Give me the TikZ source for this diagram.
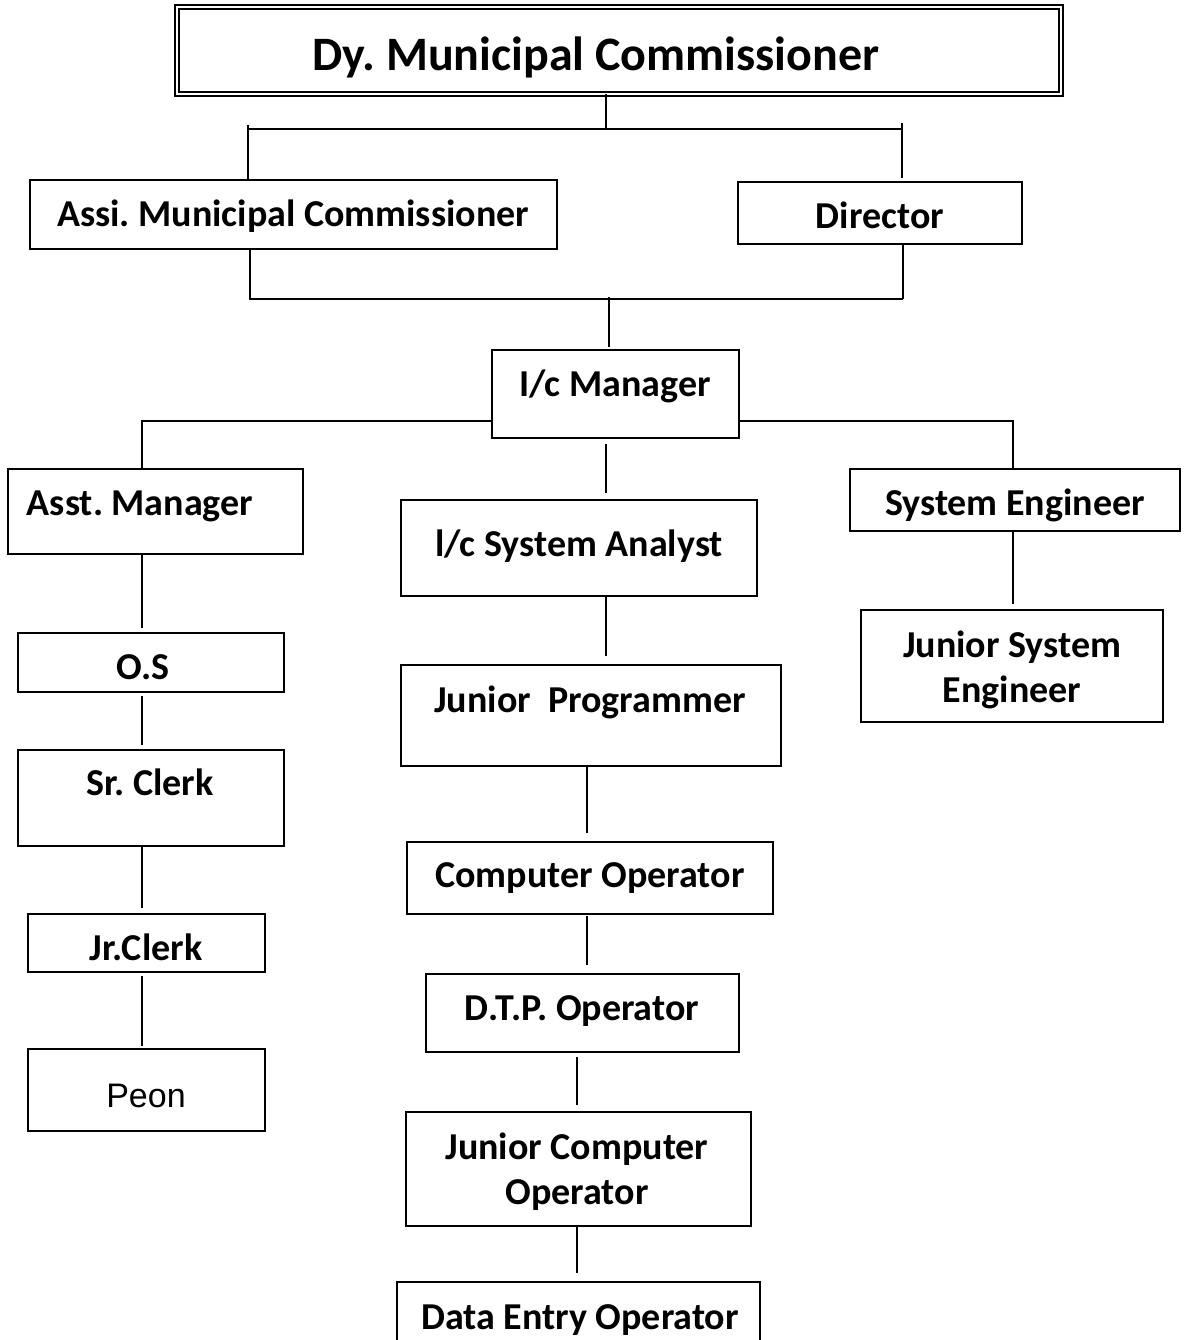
\documentclass[tikz,border=0pt]{standalone}
\usepackage{fontspec}
\setmainfont{Carlito}
\newfontfamily\arialf{Liberation Sans}
\frenchspacing
\begin{document}
\begin{tikzpicture}[x=1pt,y=-1pt,
  boxst/.style={draw, line width=2pt, inner sep=0pt, outer sep=0pt, rectangle},
  titlest/.style={draw, double, line width=2pt, double distance=2pt, inner sep=0pt, outer sep=0pt, rectangle},
  lbl/.style={inner sep=0pt, font=\bfseries\fontsize{38}{45}\selectfont, align=center},
  ttl/.style={inner sep=0pt, font=\bfseries\fontsize{48}{58}\selectfont},
  peonst/.style={inner sep=0pt, font=\arialf\fontsize{34}{40}\selectfont},
  conn/.style={line width=1.7pt}]
\newcommand\obox[6][boxst]{\node[#1, minimum width={(#5)-(#3)}, minimum height={(#6)-(#4)}] (#2) at ({((#3)+(#5))/2},{((#4)+(#6))/2}) {};}
\useasboundingbox (0,0) rectangle (1185,1340);
\clip (0,0) rectangle (1185,1340);
\fill[white] (0,0) rectangle (1185,1340);

% boxes
\obox[titlest]{title}{176.5}{7.5}{1060.5}{94.5}
\obox{ami}{30}{180}{557}{249}
\obox{dir}{738}{182}{1022}{244}
\obox{icm}{492}{350}{739}{438}
\obox{asm}{8}{469}{303}{554}
\obox{isa}{401}{500}{757}{596}
\obox{se}{850}{469}{1180}{531}
\obox{jse}{861}{610}{1163}{722}
\obox{os}{18}{633}{284}{692}
\obox{jp}{401}{665}{781}{766}
\obox{sc}{18}{750}{284}{846}
\obox{co}{407}{842}{773}{914}
\obox{jc}{28}{914}{265}{972}
\obox{dtp}{426}{974}{739}{1052}
\obox{peon}{28}{1049}{265}{1131}
\obox{jco}{406}{1112}{751}{1226}
\obox{deo}{397}{1282}{760}{1400}

% labels
\node[ttl, anchor=base] (title-t) at (596,71) {Dy. Municipal Commissioner};
\node[lbl, anchor=base] (ami-t) at (293,227) {Assi. Municipal Commissioner};
\node[lbl, anchor=base] (dir-t) at (880,229) {Director};
\node[lbl, anchor=base] (icm-t) at (615,396) {I/c Manager};
\node[lbl, anchor=base] (asm-t) at (140,515) {Asst. Manager};
\node[lbl, anchor=base] (isa-t) at (579,556) {l/c System Analyst};
\node[lbl, anchor=base] (se-t) at (1015,515) {System Engineer};
\node[lbl] (jse-t) at (1012,670) {Junior System\\Engineer};
\node[lbl, anchor=base] (os-t) at (143,679) {O.S};
\node[lbl, anchor=base] (jp-t) at (590,712) {Junior~~Programmer};
\node[lbl, anchor=base] (sc-t) at (150,795) {Sr. Clerk};
\node[lbl, anchor=base] (co-t) at (590,887) {Computer Operator};
\node[lbl, anchor=base] (jc-t) at (146,960) {Jr.Clerk};
\node[lbl, anchor=base] (dtp-t) at (582,1020) {D.T.P. Operator};
\node[peonst, anchor=base] (peon-t) at (146,1107) {Peon};
\node[lbl] (jco-t) at (577,1172) {Junior Computer\\Operator};
\node[lbl, anchor=base] (deo-t) at (580,1329) {Data Entry Operator};

% junction coordinates
\coordinate (jT) at (606,129);
\coordinate (jTL) at (248,129);
\coordinate (jTR) at (902,129);
\coordinate (jTRa) at (902,123);
\coordinate (jTRb) at (902,178);
\coordinate (jTLa) at (248,125);
\coordinate (jB) at (609,299);
\coordinate (jBL) at (250,299);
\coordinate (jBR) at (903,299);
\coordinate (jBm) at (609,347);
\coordinate (brL) at (142,421);
\coordinate (brR) at (1013,421);
\coordinate (cA) at (606,444);
\coordinate (cB) at (606,493);
\coordinate (lA) at (142,628);
\coordinate (lB) at (142,745);
\coordinate (lC) at (142,908);
\coordinate (lD) at (142,1046);
\coordinate (mA) at (606,656);
\coordinate (mB) at (587,833);
\coordinate (mC) at (587,965);
\coordinate (mD) at (577,1105);
\coordinate (mE) at (577,1273);
\coordinate (rA) at (1013,604);

% connectors
\draw[conn] (title.south -| jT) -- (jT);
\draw[conn] (jTL) -- (jTR);
\draw[conn] (jTLa) -- (ami.north -| jTLa);
\draw[conn] (jTRa) -- (jTRb);
\draw[conn] (ami.south -| jBL) -- (jBL) -- (jBR);
\draw[conn] (dir.south -| jBR) -- (jBR);
\draw[conn] ([yshift=2pt]jB) -- (jBm);
\draw[conn] (icm.west |- brL) -- (brL) -- (asm.north -| brL);
\draw[conn] (icm.east |- brR) -- (brR) -- (se.north -| brR);
\draw[conn] (cA) -- (cB);
\draw[conn] (asm.south -| lA) -- (lA);
\draw[conn] (os.south -| lB) ++(0,4) -- (lB);
\draw[conn] (sc.south -| lC) -- (lC);
\draw[conn] (jc.south -| lD) ++(0,4) -- (lD);
\draw[conn] (isa.south -| mA) -- (mA);
\draw[conn] (jp.south -| mB) -- (mB);
\draw[conn] (co.south -| mC) ++(0,2) -- (mC);
\draw[conn] (dtp.south -| mD) ++(0,5) -- (mD);
\draw[conn] (jco.south -| mE) -- (mE);
\draw[conn] (se.south -| rA) -- (rA);
\end{tikzpicture}
\end{document}
